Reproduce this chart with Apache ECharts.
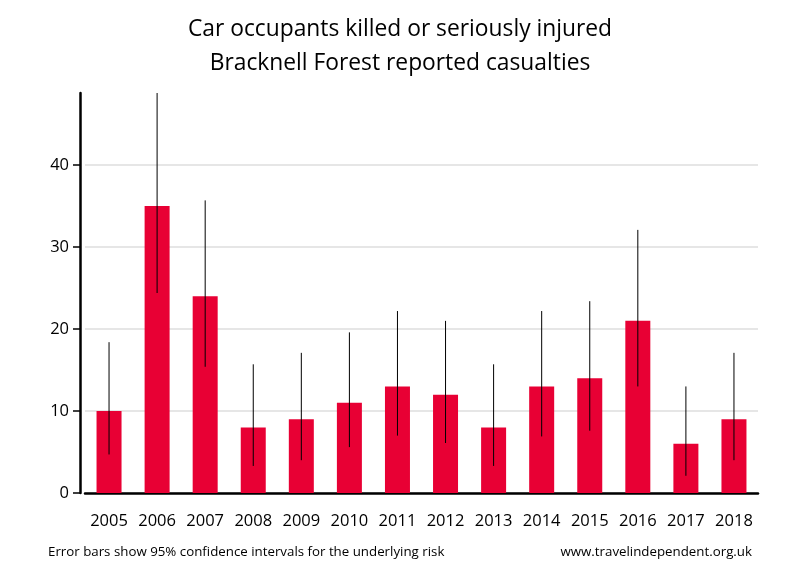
<!DOCTYPE html>
<html><head><meta charset="utf-8">
<script src="https://cdn.jsdelivr.net/npm/echarts@6/dist/echarts.min.js"></script>
<style>html,body{margin:0;padding:0;background:#fff}#c{width:800px;height:580px}</style>
</head><body><div id="c"></div>
<script>
const categories = ['2005','2006','2007','2008','2009','2010','2011','2012','2013','2014','2015','2016','2017','2018'];
const values = [10,35,24,8,9,11,13,12,8,13,14,21,6,9];
const lower = [4.7,24.4,15.4,3.3,4.0,5.6,7.0,6.1,3.3,6.9,7.6,13.0,2.1,4.0];
const upper = [18.4,52,35.7,15.7,17.1,19.6,22.2,21.0,15.7,22.2,23.4,32.1,13.0,17.1];
const yTicks = [0,10,20,30,40];

const font = '"Open Sans", "Noto Sans", sans-serif';
const chart = echarts.init(document.getElementById('c'));
chart.setOption({
  animation:false,
  title:{text:'Car occupants killed or seriously injured\nBracknell Forest reported casualties',left:'center',top:8,
    textStyle:{fontFamily:font,fontSize:22.8,fontWeight:'normal',color:'#000',lineHeight:34}},
  grid:{left:85,right:42,top:93,bottom:87},
  xAxis:{type:'category',data:categories,
    axisLine:{lineStyle:{color:'#000',width:2.5}},axisTick:{show:false},
    axisLabel:{fontFamily:font,fontSize:16.5,color:'#000',margin:20,interval:0,hideOverlap:false}},
  yAxis:{type:'value',min:0,max:48.8,interval:10,offset:5,
    axisLine:{show:true,lineStyle:{color:'#000',width:2.5}},
    axisTick:{show:true,length:7,lineStyle:{color:'#000',width:1.5},customValues:yTicks},
    axisLabel:{fontFamily:font,fontSize:16.5,color:'#000',margin:11,customValues:yTicks},
    splitLine:{lineStyle:{color:'#e6e6e6',width:2}}},
  series:[
    {type:'bar',data:values,barWidth:25,itemStyle:{color:'#e80034'}},
    {type:'custom',clip:true,
     data:categories.map((c,i)=>[i,lower[i],upper[i]]),
     encode:{x:0,y:[1,2]},
     renderItem:function(params,api){
       const lo=api.coord([api.value(0),api.value(1)]);
       const hi=api.coord([api.value(0),api.value(2)]);
       return {type:'line',shape:{x1:lo[0],y1:lo[1],x2:hi[0],y2:hi[1]},style:{stroke:'#000',lineWidth:1}};
     },z:5}
  ],
  graphic:[
    {type:'text',left:48,top:546,style:{text:'Error bars show 95% confidence intervals for the underlying risk',fontFamily:font,fontSize:13.3,fill:'#000'}},
    {type:'text',right:48,top:546,style:{text:'www.travelindependent.org.uk',fontFamily:font,fontSize:13.3,fill:'#000'}}
  ]
});
</script></body></html>
